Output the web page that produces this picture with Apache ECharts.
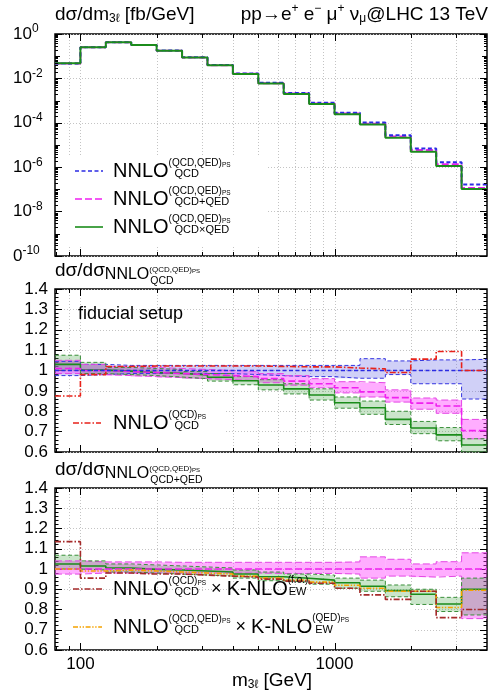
<!DOCTYPE html>
<html>
<head>
<meta charset="utf-8">
<script src="https://cdn.jsdelivr.net/npm/echarts@6/dist/echarts.min.js"></script>
<style>
html,body{margin:0;padding:0;background:#fff;}
#chart{width:491px;height:692px;}
</style>
</head>
<body>
<div id="chart"></div>
<script>
// ---------------- DATA ----------------
const binEdges = [79.43, 100, 125.89, 158.49, 199.53, 251.19, 316.23, 398.11, 501.19, 630.96, 794.33, 1000, 1258.9, 1584.9, 1995.3, 2511.9, 3162.3, 3981.1];
const xMajorTicks = [100, 1000];
const xMajorLabels = ['100', '1000'];
const xMinorTicks = [80, 90, 200, 300, 400, 500, 600, 700, 800, 900, 2000, 3000];
const topExponents = [-10, -8, -6, -4, -2, 0];

// top panel: dσ/dm3l [fb/GeV]
const topQCD        = [0.047, 0.25, 0.43, 0.32, 0.18, 0.090, 0.040, 0.0165, 0.0064, 0.0022, 7.9e-4, 2.85e-4, 1.02e-4, 2.75e-5, 7.0e-6, 1.65e-6, 1.65e-7];
const topQCDplusQED = [0.0475, 0.25, 0.428, 0.317, 0.177, 0.088, 0.039, 0.016, 0.0061, 0.0021, 7.4e-4, 2.6e-4, 9.1e-5, 2.4e-5, 5.9e-6, 1.36e-6, 1.16e-7];
const topQCDxQED    = [0.048, 0.25, 0.429, 0.317, 0.1775, 0.088, 0.0387, 0.0157, 0.0059, 0.0020, 7.0e-4, 2.4e-4, 8.3e-5, 2.1e-5, 5.0e-6, 1.13e-6, 1.05e-7];

// middle panel: ratio to NNLO_QCD^(QCD,QED)PS
const midQCD      = [1, 1, 1, 1, 1, 1, 1, 1, 1, 1, 1, 1, 1, 1, 1, 1, 1];
const midQCDHi    = [1.045, 1.03, 1.025, 1.025, 1.025, 1.025, 1.025, 1.025, 1.025, 1.025, 1.025, 1.025, 1.058, 1.047, 1.052, 1.052, 1.055];
const midQCDLo    = [0.975, 0.98, 0.985, 0.985, 0.985, 0.985, 0.985, 0.98, 0.975, 0.97, 0.97, 0.962, 0.962, 0.98, 0.935, 0.935, 0.86];
const midQCDonly  = [0.875, 0.98, 1.02, 1.022, 1.022, 1.022, 1.022, 1.022, 1.02, 1.018, 1.018, 1.012, 1.008, 0.99, 1.056, 1.093, 1.0];
const midPlus     = [1.01, 1.0, 0.995, 0.99, 0.985, 0.98, 0.975, 0.97, 0.96, 0.948, 0.935, 0.915, 0.895, 0.867, 0.84, 0.826, 0.705];
const midPlusHi   = [1.05, 1.03, 1.02, 1.015, 1.01, 1.005, 1.0, 0.995, 0.985, 0.975, 0.96, 0.945, 0.94, 0.905, 0.865, 0.855, 0.76];
const midPlusLo   = [0.985, 0.98, 0.975, 0.97, 0.965, 0.96, 0.955, 0.95, 0.94, 0.928, 0.915, 0.89, 0.87, 0.845, 0.81, 0.79, 0.665];
const midTimes    = [1.03, 1.002, 0.997, 0.99, 0.986, 0.978, 0.967, 0.95, 0.929, 0.91, 0.88, 0.842, 0.817, 0.76, 0.718, 0.684, 0.634];
const midTimesHi  = [1.075, 1.04, 1.015, 1.01, 1.005, 0.995, 0.985, 0.97, 0.955, 0.935, 0.91, 0.87, 0.85, 0.8, 0.75, 0.72, 0.665];
const midTimesLo  = [1.0, 0.985, 0.98, 0.975, 0.968, 0.96, 0.948, 0.93, 0.905, 0.885, 0.855, 0.815, 0.785, 0.735, 0.69, 0.655, 0.6];

// bottom panel: ratio to NNLO_QCD+QED^(QCD,QED)PS
const botPlus     = [1, 1, 1, 1, 1, 1, 1, 1, 1, 1, 1, 1, 1, 1, 1, 1, 1];
const botPlusHi   = [1.04, 1.035, 1.035, 1.035, 1.033, 1.033, 1.033, 1.033, 1.033, 1.033, 1.033, 1.035, 1.06, 1.048, 1.025, 1.036, 1.08];
const botPlusLo   = [0.975, 0.98, 0.98, 0.98, 0.98, 0.98, 0.98, 0.98, 0.978, 0.978, 0.978, 0.975, 0.955, 0.965, 0.96, 0.965, 0.755];
const botTimes    = [1.025, 1.015, 1.005, 0.998, 0.995, 0.99, 0.985, 0.975, 0.962, 0.954, 0.945, 0.932, 0.915, 0.893, 0.875, 0.827, 0.9];
const botTimesHi  = [1.068, 1.04, 1.025, 1.02, 1.015, 1.01, 1.005, 0.995, 0.985, 0.975, 0.97, 0.955, 0.945, 0.921, 0.9, 0.86, 0.955];
const botTimesLo  = [1.0, 0.995, 0.985, 0.98, 0.975, 0.97, 0.965, 0.955, 0.942, 0.935, 0.925, 0.905, 0.89, 0.863, 0.825, 0.79, 0.773];
const botKfo      = [1.135, 0.955, 0.98, 0.975, 0.975, 0.97, 0.965, 0.96, 0.95, 0.94, 0.93, 0.905, 0.872, 0.85, 0.89, 0.76, 0.8];
const botKqed     = [1.0, 0.99, 0.995, 0.99, 0.985, 0.98, 0.975, 0.965, 0.955, 0.945, 0.935, 0.92, 0.905, 0.89, 0.89, 0.81, 0.895];

// ---------------- HELPERS ----------------
const FONT = "'Liberation Sans', 'DejaVu Sans', Arial, sans-serif";
const L = v => Math.log10(v);
const chart = echarts.init(document.getElementById('chart'), null, {renderer: 'canvas', width: 491, height: 692});

function stepSeries(gi, vals, color, width, dash, z, logY) {
  const data = binEdges.map((e, i) => {
    const v = vals[Math.min(i, vals.length - 1)];
    return [L(e), logY ? L(v) : v];
  });
  return {type: 'line', xAxisIndex: gi, yAxisIndex: gi * 2, step: 'end', data, symbol: 'none', showSymbol: false,
    z, silent: true, clip: true, animation: false,
    lineStyle: {color, width, type: dash || 'solid', cap: 'butt'}};
}
function bandSeries(gi, lo, hi, fill, z) {
  const data = lo.map((l, i) => [L(binEdges[i]), L(binEdges[i + 1]), l, hi[i]]);
  return {type: 'custom', xAxisIndex: gi, yAxisIndex: gi * 2, z, silent: true, clip: true, animation: false,
    encode: {x: [0, 1], y: [2, 3]}, data,
    renderItem(params, api) {
      const p0 = api.coord([api.value(0), api.value(3)]);
      const p1 = api.coord([api.value(1), api.value(2)]);
      return {type: 'rect', shape: {x: p0[0], y: p0[1], width: p1[0] - p0[0], height: p1[1] - p0[1]}, style: {fill, stroke: null}};
    }};
}
function xGridSeries(gi) {
  const ticks = xMinorTicks.concat(xMajorTicks).filter(t => t > binEdges[0] * 1.02);
  return {type: 'custom', xAxisIndex: gi, yAxisIndex: gi * 2, z: 0, silent: true, clip: false, animation: false,
    data: ticks.map(t => [L(t)]),
    renderItem(params, api) {
      const cs = params.coordSys;
      const x = Math.round(api.coord([api.value(0), 0])[0]) + 0.5;
      return {type: 'line', shape: {x1: x, y1: cs.y, x2: x, y2: cs.y + cs.height},
        style: {stroke: '#c4c4c4', lineWidth: 1, lineDash: [1, 2]}};
    }};
}
function xTickSeries(gi) {
  const data = xMajorTicks.map(t => [L(t), 1]).concat(xMinorTicks.map(t => [L(t), 0]));
  return {type: 'custom', xAxisIndex: gi, yAxisIndex: gi * 2, z: 6, silent: true, clip: false, animation: false, data,
    renderItem(params, api) {
      const cs = params.coordSys;
      const x = Math.round(api.coord([api.value(0), 0])[0]) + 0.5;
      const len = api.value(1) ? 7 : 4;
      const b = cs.y + cs.height;
      return {type: 'group', children: [
        {type: 'line', shape: {x1: x, y1: b, x2: x, y2: b - len}, style: {stroke: '#000', lineWidth: 1}},
        {type: 'line', shape: {x1: x, y1: cs.y, x2: x, y2: cs.y + len}, style: {stroke: '#000', lineWidth: 1}}
      ]};
    }};
}
function topMinorYTicks() {
  const vals = [];
  for (let n = topExponents[0]; n < topExponents[topExponents.length - 1]; n++) {
    for (let k = 1; k <= 9; k++) {
      const v = n + L(k);
      if (k === 1 && topExponents.indexOf(n) >= 0) continue;
      vals.push([v, k === 1 ? 5 : 3]);
    }
  }
  return {type: 'custom', xAxisIndex: 0, yAxisIndex: 0, z: 6, silent: true, clip: false, animation: false,
    data: vals.map(v => [0, v[0], v[1]]), encode: {y: 1},
    renderItem(params, api) {
      const cs = params.coordSys;
      const y = Math.round(api.coord([2, api.value(1)])[1]) + 0.5;
      const len = api.value(2);
      return {type: 'group', children: [
        {type: 'line', shape: {x1: cs.x, y1: y, x2: cs.x + len, y2: y}, style: {stroke: '#000', lineWidth: 1}},
        {type: 'line', shape: {x1: cs.x + cs.width, y1: y, x2: cs.x + cs.width - len, y2: y}, style: {stroke: '#000', lineWidth: 1}}
      ]};
    }};
}

// text layout helpers (super/subscripts)
const mctx = document.createElement('canvas').getContext('2d');
const fontOf = s => s + 'px ' + FONT;
function tw(t, s) { mctx.font = fontOf(s); return mctx.measureText(t).width; }
function itemW(r) { if (r.up) return Math.max(seqW(r.up), seqW(r.dn || [])); return (r.gap || 0) + (r.t ? tw(r.t, r.s) : 0); }
function seqW(seq) { let w = 0; seq.forEach(r => { w += itemW(r); }); return w; }
function txt(x, y, t, s, c) {
  return {type: 'text', x, y, z: 30, silent: true,
    style: {text: t, font: fontOf(s), fill: c || '#000', textAlign: 'left', textVerticalAlign: 'middle', align: 'left', verticalAlign: 'middle'}};
}
function place(seq, x, y, out) {
  seq.forEach(r => {
    if (r.up) { place(r.up, x, y, out); if (r.dn) place(r.dn, x, y, out); }
    else if (r.t) out.push(txt(x + (r.gap || 0), y + (r.dy || 0), r.t, r.s, r.c));
    x += itemW(r);
  });
}
function runs(seq, x, y, align) {
  const w = seqW(seq);
  const x0 = align === 'right' ? x - w : align === 'center' ? x - w / 2 : x;
  const out = []; place(seq, x0, y, out); return out;
}
function sample(x1, x2, y, color, dash, width) {
  return {type: 'line', z: 30, silent: true, shape: {x1, y1: y, x2, y2: y}, style: {stroke: color, lineWidth: width || 1.5, lineDash: dash || null}};
}
function box(x, y, w, h) { return {type: 'rect', z: 1, silent: true, shape: {x, y, width: w, height: h}, style: {fill: '#fff'}}; }

// ---------------- STYLES ----------------
const C = {
  blue: '#2b2be3', magenta: '#f020f0', green: '#1b8c1b', red: '#e8221a', dred: '#a52a2a', orange: '#f5a300',
  blueEdge: '#3535e0', magEdge: '#e545e5', greenEdge: '#3a8f3a',
  blueFill: 'rgba(110,110,230,0.32)', magFill: 'rgba(255,60,255,0.42)', greenFill: 'rgba(60,160,60,0.27)'
};
const D = {short: [4, 2.5], long: [7, 3], edge: [4, 2.5], dashdot: [6, 2, 1.5, 2], dashdotdot: [5, 1.6, 1.4, 1.6, 1.4, 1.6]};

// ---------------- AXES ----------------
const gridPos = [{top: 34, height: 222}, {top: 289, height: 163}, {top: 488, height: 162}];
const grids = gridPos.map(g => ({left: 55, right: 4, top: g.top, height: g.height, show: true, borderColor: '#000', borderWidth: 1.5, backgroundColor: 'transparent', z: 0}));
const xAxes = [0, 1, 2].map(i => ({
  type: 'value', gridIndex: i, min: 1.9, max: 3.6, interval: 0.1,
  axisLine: {show: false}, axisTick: {show: false}, splitLine: {show: false},
  axisLabel: {show: i === 2, margin: 6, color: '#000', fontSize: 17, fontFamily: FONT,
    formatter: v => { const k = xMajorTicks.findIndex(t => Math.abs(L(t) - v) < 1e-6); return k >= 0 ? xMajorLabels[k] : ''; }}
}));
const yAxes = [];
[0, 1, 2].forEach(i => {
  const isTop = i === 0;
  ['left', 'right'].forEach(pos => {
    yAxes.push({
      type: 'value', gridIndex: i, position: pos,
      min: isTop ? -10 : 0.6, max: isTop ? 0 : 1.4, interval: isTop ? 2 : 0.1,
      axisLine: {show: false},
      axisTick: {show: true, inside: true, length: 7, lineStyle: {color: '#000', width: 1}},
      minorTick: {show: !isTop, splitNumber: 5, length: 3.5, lineStyle: {color: '#000', width: 1}},
      splitLine: {show: pos === 'left', lineStyle: {color: '#c4c4c4', width: 1, type: [1, 2]}},
      axisLabel: {show: !isTop && pos === 'left', margin: 7, color: '#000', fontSize: 17, fontFamily: FONT,
        formatter: v => Math.abs(v - 1) < 1e-9 ? '1' : v.toFixed(1)}
    });
  });
});

// ---------------- SERIES ----------------
const series = [];
[0, 1, 2].forEach(i => { series.push(xGridSeries(i)); series.push(xTickSeries(i)); });
series.push(topMinorYTicks());
// top
series.push(stepSeries(0, topQCDplusQED, C.magenta, 2, D.long, 3, true));
series.push(stepSeries(0, topQCD, C.blue, 2, D.short, 4, true));
series.push(stepSeries(0, topQCDxQED, C.green, 2, 'solid', 5, true));
// middle
series.push(bandSeries(1, midQCDLo, midQCDHi, C.blueFill, 2));
series.push(bandSeries(1, midPlusLo, midPlusHi, C.magFill, 2));
series.push(bandSeries(1, midTimesLo, midTimesHi, C.greenFill, 2));
series.push(stepSeries(1, midQCDHi, C.blueEdge, 1, D.edge, 3));
series.push(stepSeries(1, midQCDLo, C.blueEdge, 1, D.edge, 3));
series.push(stepSeries(1, midPlusHi, C.magEdge, 1, D.long, 3));
series.push(stepSeries(1, midPlusLo, C.magEdge, 1, D.long, 3));
series.push(stepSeries(1, midTimesHi, C.greenEdge, 1, D.edge, 3));
series.push(stepSeries(1, midTimesLo, C.greenEdge, 1, D.edge, 3));
series.push(stepSeries(1, midTimes, C.green, 1.6, 'solid', 4));
series.push(stepSeries(1, midPlus, C.magenta, 1.6, D.long, 4));
series.push(stepSeries(1, midQCD, C.blue, 1.6, D.short, 4));
series.push(stepSeries(1, midQCDonly, C.red, 1.6, D.dashdot, 5));
// bottom
series.push(bandSeries(2, botPlusLo, botPlusHi, C.magFill, 2));
series.push(bandSeries(2, botTimesLo, botTimesHi, C.greenFill, 2));
series.push(stepSeries(2, botPlusHi, C.magEdge, 1, D.long, 3));
series.push(stepSeries(2, botPlusLo, C.magEdge, 1, D.long, 3));
series.push(stepSeries(2, botTimesHi, C.greenEdge, 1, D.edge, 3));
series.push(stepSeries(2, botTimesLo, C.greenEdge, 1, D.edge, 3));
series.push(stepSeries(2, botTimes, C.green, 1.6, 'solid', 4));
series.push(stepSeries(2, botPlus, C.magenta, 1.6, D.long, 4));
series.push(stepSeries(2, botKqed, C.orange, 1.6, D.dashdotdot, 5));
series.push(stepSeries(2, botKfo, C.dred, 1.6, D.dashdot, 5));

chart.setOption({animation: false, backgroundColor: '#fff', grid: grids, xAxis: xAxes, yAxis: yAxes, series});

// ---------------- TEXT / LEGENDS (graphic) ----------------
const G = [];
// legend background boxes
G.push(box(62, 156, 206, 91));
G.push(box(62, 399, 162, 52));
G.push(box(62, 591, 352, 58));

// top y tick labels (10^n)
topExponents.forEach(e => {
  const y = chart.convertToPixel({xAxisIndex: 0, yAxisIndex: 0}, [1.9, e])[1];
  const main = e === -10 ? '0' : '10';
  G.push(...runs([{t: main, s: 17}, {t: String(e), s: 12, dy: -5}], 13, y, 'left'));
});

// titles
G.push(...runs([{t: 'd\u03c3/dm', s: 19}, {t: '3\u2113', s: 12, dy: 4}, {t: ' [fb/GeV]', s: 19}], 55, 15, 'left'));
G.push(...runs([{t: 'pp\u2192e', s: 19}, {t: '+', s: 12, dy: -6}, {t: ' e', s: 19}, {t: '\u2212', s: 12, dy: -6},
  {t: ' \u03bc', s: 19}, {t: '+', s: 12, dy: -6}, {t: ' \u03bd', s: 19}, {t: '\u03bc', s: 12, dy: 4}, {t: '@LHC 13 TeV', s: 19}], 488, 15, 'right'));

function ratioTitle(y, sub) {
  return runs([{t: 'd\u03c3/d\u03c3', s: 19}, {t: 'NNLO', s: 16, dy: 4},
    {up: [{t: '(QCD,QED)', s: 8, dy: -1}, {t: 'PS', s: 6, dy: 0.5}], dn: [{t: sub, s: 10.5, dy: 10.5, gap: 1}]}], 55, y, 'left');
}
G.push(...ratioTitle(271, 'QCD'));
G.push(...ratioTitle(470, 'QCD+QED'));
G.push(...runs([{t: 'fiducial setup', s: 18}], 78, 314, 'left'));

// x-axis title
G.push(...runs([{t: 'm', s: 19}, {t: '3\u2113', s: 12, dy: 4}, {t: ' [GeV]', s: 19}], 272, 681, 'center'));

function nnlo(sup, supSub, sub) {
  return [{t: 'NNLO', s: 20}, {up: [{t: sup, s: 10, dy: -8}, {t: supSub, s: 6.5, dy: -6}], dn: [{t: sub, s: 11, dy: 3, gap: 6}]}];
}
// top legend
const topLeg = [
  {y: 171, c: C.blue, d: D.short, sub: 'QCD'},
  {y: 199, c: C.magenta, d: D.long, sub: 'QCD+QED'},
  {y: 227, c: C.green, d: null, sub: 'QCD\u00d7QED'}
];
topLeg.forEach(e => {
  G.push(sample(75, 103, e.y, e.c, e.d, 1.6));
  G.push(...runs(nnlo('(QCD,QED)', 'PS', e.sub), 113, e.y, 'left'));
});
// middle legend
G.push(sample(73, 101, 423, C.red, D.dashdot, 1.6));
G.push(...runs(nnlo('(QCD)', 'PS', 'QCD'), 113, 423, 'left'));
// bottom legend
G.push(sample(73, 102, 589, C.dred, D.dashdot, 1.6));
G.push(...runs(nnlo('(QCD)', 'PS', 'QCD').concat([{t: ' \u00d7 ', s: 18}, {t: 'K-NLO', s: 20},
  {up: [{t: '(f.o.)', s: 10, dy: -9}], dn: [{t: 'EW', s: 11, dy: 3, gap: 1}]}]), 113, 589, 'left'));
G.push(sample(73, 102, 627, C.orange, D.dashdotdot, 1.6));
G.push(...runs(nnlo('(QCD,QED)', 'PS', 'QCD').concat([{t: ' \u00d7 ', s: 18}, {t: 'K-NLO', s: 20},
  {up: [{t: '(QED)', s: 10, dy: -9}, {t: 'PS', s: 6.5, dy: -7}], dn: [{t: 'EW', s: 11, dy: 3, gap: 3}]}]), 113, 627, 'left'));

chart.setOption({graphic: {elements: G}});
</script>
</body>
</html>
